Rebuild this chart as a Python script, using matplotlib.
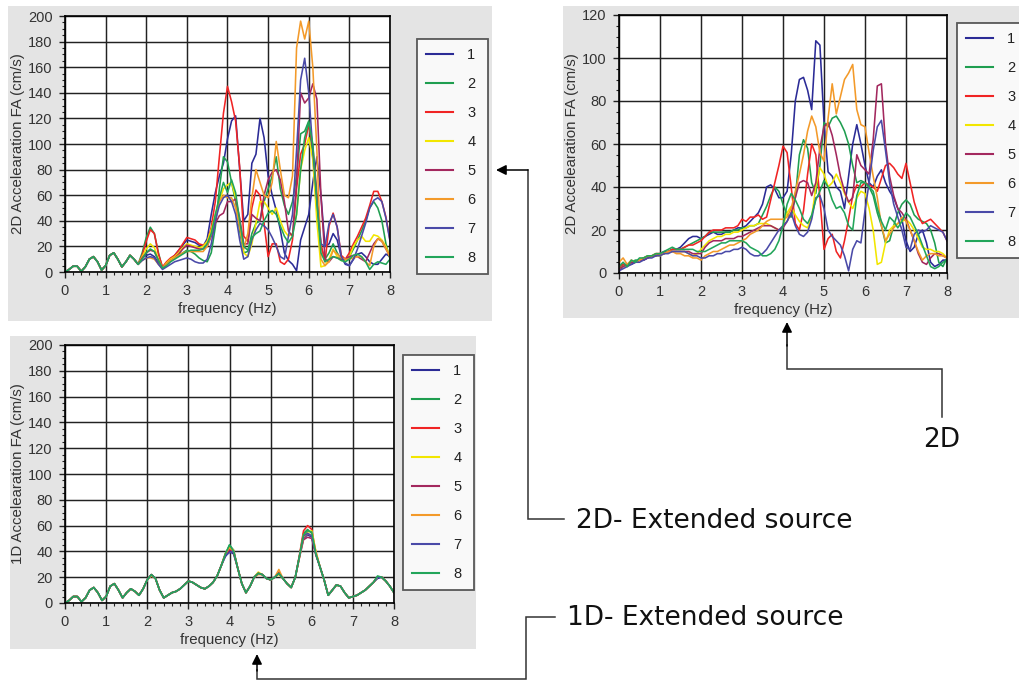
import numpy as np
import matplotlib
matplotlib.use('Agg')
import matplotlib.pyplot as plt
from matplotlib.ticker import MultipleLocator
from matplotlib.patches import Rectangle

W, H = 1020, 681

freq = np.linspace(0, 8, 81)   # 0.1 Hz steps
labels = ['1', '2', '3', '4', '5', '6', '7', '8']
colors = ['#2b2b96', '#1f9e50', '#f02424', '#f2e600',
          '#a3285e', '#f39a2a', '#4a4aa8', '#22a55a']

# ---- 2D, extended source (top left), 0.0-1.8 Hz is shared by all runs
ext2d_low = [0, 2, 4.5, 4.5, 0.5, 4, 10, 12, 8, 1.5, 5, 13, 15, 10, 4, 8, 13, 10, 6]
ext2d_1 = ext2d_low + [11, 13, 14, 12, 7, 3, 7, 10, 13, 17, 21, 25, 24, 23, 21, 20, 26, 45, 62, 75,
                       85, 104, 118, 122, 80, 40, 45, 85, 92, 120, 105, 75, 60, 48, 33, 15, 9, 6, 1, 25,
                       35, 45, 70, 90, 60, 20, 22, 30, 25, 12, 6, 5, 10, 14, 15, 12, 8, 6, 6, 10, 14, 12]
ext2d_2 = ext2d_low + [15, 27, 35, 30, 15, 3, 6, 9, 11, 13, 15, 17, 16, 14, 11, 9, 8, 15, 35, 65,
                       90, 86, 70, 55, 32, 15, 16, 30, 38, 40, 55, 65, 75, 90, 65, 52, 45, 55, 75, 108,
                       110, 118, 90, 55, 20, 10, 15, 22, 15, 10, 9, 12, 18, 25, 32, 40, 50, 55, 50, 40, 22, 10]
ext2d_3 = ext2d_low + [13, 24, 33, 30, 14, 4, 8, 11, 13, 17, 22, 27, 26, 25, 22, 21, 23, 35, 55, 90,
                       124, 145, 133, 118, 82, 28, 24, 50, 64, 60, 38, 12, 22, 22, 8, 6, 10, 25, 65, 92,
                       100, 115, 98, 62, 22, 8, 36, 46, 35, 13, 10, 15, 22, 28, 35, 42, 52, 63, 63, 55, 43, 25]
ext2d_4 = ext2d_low + [12, 18, 22, 19, 10, 3, 7, 10, 12, 15, 19, 22, 21, 20, 19, 20, 24, 33, 45, 55,
                       65, 68, 70, 58, 38, 15, 12, 22, 38, 55, 55, 50, 45, 50, 40, 32, 28, 30, 45, 80,
                       95, 105, 88, 40, 4, 5, 10, 18, 12, 9, 9, 12, 20, 25, 28, 24, 24, 29, 28, 25, 20, 12]
ext2d_5 = ext2d_low + [11, 15, 17, 16, 9, 3, 6, 9, 11, 14, 18, 21, 20, 19, 18, 18, 20, 28, 38, 44,
                       46, 55, 55, 57, 42, 22, 22, 45, 42, 40, 60, 72, 78, 80, 72, 55, 32, 28, 70, 140,
                       132, 136, 147, 135, 60, 10, 8, 12, 11, 10, 10, 12, 13, 12, 10, 8, 15, 22, 26, 24, 18, 12]
ext2d_6 = ext2d_low + [9, 11, 11, 10, 6, 3, 6, 9, 11, 13, 15, 16, 16, 16, 16, 16, 20, 30, 42, 55,
                       60, 58, 58, 50, 35, 18, 30, 58, 80, 70, 60, 58, 70, 102, 80, 60, 58, 75, 175, 196,
                       182, 196, 160, 95, 10, 5, 8, 17, 14, 11, 10, 10, 11, 12, 12, 8, 5, 20, 26, 24, 18, 12]
ext2d_7 = ext2d_low + [9, 11, 12, 11, 6, 2, 4, 6, 8, 9, 10, 11, 10, 8, 7, 7, 10, 22, 40, 52,
                       58, 60, 55, 45, 25, 10, 12, 25, 33, 38, 36, 33, 27, 20, 12, 10, 28, 45, 95, 150,
                       167, 140, 95, 55, 22, 20, 38, 45, 35, 12, 7, 5, 10, 18, 28, 38, 50, 56, 58, 55, 42, 24]
ext2d_8 = ext2d_low + [10, 15, 18, 16, 9, 3, 5, 8, 10, 12, 14, 16, 17, 17, 17, 18, 22, 30, 45, 58,
                       70, 62, 72, 62, 40, 20, 17, 27, 30, 32, 40, 46, 48, 45, 36, 28, 23, 28, 45, 80,
                       105, 117, 100, 55, 15, 8, 10, 12, 11, 9, 8, 10, 13, 14, 12, 8, 2, 6, 8, 7, 6, 10]

# ---- 2D (top right)
pt2d_1 = [1, 3, 4, 4, 5, 6, 6, 7, 8, 8, 9, 10, 10, 11, 11, 12,
          14, 16, 17, 17, 16, 17, 18, 19, 18, 18, 19, 19, 20, 21, 21, 22, 24, 26, 28, 32,
          40, 41, 39, 35, 35, 38, 55, 80, 90, 91, 85, 76, 108, 106, 70, 47, 45, 40, 38, 30,
          45, 60, 69, 60, 50, 42, 40, 45, 48, 42, 38, 35, 30, 25, 15, 10, 12, 18, 20, 14,
          5, 3, 4, 6, 6]
pt2d_2 = [2, 4, 3, 5, 6, 6, 7, 8, 8, 8, 9, 9, 10, 11, 11, 11,
          12, 13, 14, 15, 16, 17, 19, 19, 19, 19, 19, 19, 20, 20, 21, 21, 22, 22, 23, 27,
          31, 36, 40, 38, 32, 27, 26, 35, 55, 62, 58, 42, 37, 50, 70, 68, 72, 73, 70, 66,
          60, 50, 42, 43, 42, 40, 36, 28, 22, 14, 15, 22, 28, 32, 34, 32, 27, 25, 24, 23,
          20, 14, 5, 3, 7]
pt2d_3 = [3, 4, 4, 5, 5, 6, 7, 7, 8, 9, 9, 9, 10, 11, 11, 11,
          12, 13, 13, 14, 15, 17, 19, 20, 20, 20, 21, 21, 21, 22, 25, 24, 26, 26, 27, 25,
          26, 34, 42, 50, 59, 56, 40, 23, 20, 29, 46, 60, 55, 35, 11, 16, 18, 10, 7, 15,
          25, 36, 41, 40, 42, 41, 40, 38, 44, 50, 51, 49, 46, 44, 51, 42, 33, 27, 23, 24,
          25, 23, 21, 19, 15]
pt2d_4 = [2, 3, 4, 5, 5, 6, 7, 7, 8, 8, 8, 9, 10, 10, 10, 10,
          10, 9, 8, 9, 11, 13, 15, 16, 17, 17, 18, 18, 19, 19, 20, 21, 22, 22, 23, 23,
          23, 22, 21, 20, 22, 28, 31, 27, 24, 22, 21, 26, 40, 49, 46, 40, 42, 46, 42, 37,
          33, 30, 35, 38, 37, 30, 20, 4, 5, 14, 20, 22, 23, 24, 25, 23, 20, 16, 12, 11,
          11, 10, 10, 9, 7]
pt2d_5 = [2, 3, 4, 5, 5, 6, 6, 7, 8, 8, 9, 9, 10, 10, 10, 10,
          10, 10, 9, 9, 9, 12, 14, 15, 15, 15, 16, 16, 16, 17, 17, 18, 19, 20, 21, 22,
          22, 22, 21, 20, 21, 24, 28, 35, 42, 43, 42, 36, 42, 58, 68, 70, 64, 55, 45, 38,
          33, 35, 55, 50, 48, 46, 62, 87, 88, 60, 45, 36, 30, 28, 25, 20, 15, 9, 5, 4,
          7, 9, 9, 8, 7]
pt2d_6 = [5, 7, 4, 6, 5, 6, 7, 8, 8, 9, 9, 9, 10, 10, 9, 9, 8, 8, 7, 7,
          6, 8, 9, 10, 10, 11, 12, 13, 13, 14, 15, 16, 18, 19, 20, 22, 24, 25, 25, 25,
          25, 26, 30, 38, 46, 55, 66, 73, 68, 56, 52, 72, 88, 74, 82, 90, 93, 97, 76, 69,
          68, 56, 45, 35, 22, 15, 18, 21, 23, 26, 24, 20, 15, 10, 6, 8, 9, 9, 8, 8, 7]
pt2d_7 = [1, 2, 3, 4, 5, 5, 6, 7, 7, 8, 8, 9, 9, 10, 10, 10,
          10, 9, 8, 8, 7, 7, 8, 8, 9, 9, 10, 10, 11, 11, 12, 11, 9, 8, 8, 9,
          11, 14, 17, 20, 22, 24, 28, 22, 18, 17, 19, 25, 35, 36, 30, 20, 17, 15, 13, 8,
          1, 11, 15, 14, 29, 42, 57, 68, 71, 57, 42, 32, 26, 20, 12, 11, 18, 20, 19, 20,
          22, 21, 20, 19, 15]
pt2d_8 = [3, 5, 3, 6, 5, 7, 7, 8, 8, 9, 9, 10, 11, 12, 11, 11,
          11, 11, 11, 10, 10, 10, 11, 12, 13, 14, 14, 15, 15, 15, 15, 14, 12, 11, 10, 8,
          8, 9, 11, 15, 22, 32, 37, 34, 30, 25, 23, 27, 34, 38, 43, 40, 34, 30, 31, 28,
          22, 20, 36, 42, 42, 40, 38, 30, 24, 20, 26, 24, 21, 24, 28, 26, 22, 18, 13, 8,
          3, 2, 3, 5, 6]

# ---- 1D, extended source (bottom left)
ext1d_1 = [0, 2, 5, 5, 1, 4, 10, 12, 8, 2, 5, 13, 15, 10, 4, 8, 11, 9, 6, 11,
           18, 22, 19, 10, 4, 6, 8, 9, 11, 14, 17, 16, 14, 12, 11, 13, 16, 21, 29, 36,
           40, 38, 27, 15, 8, 13, 20, 23, 22, 19, 18, 20, 23, 19, 15, 12, 20, 36, 50, 53,
           51, 38, 28, 18, 6, 10, 14, 13, 8, 4, 5, 6, 8, 10, 13, 16, 19, 20, 17, 13, 8]
ext1d_2 = [0, 2, 5, 5, 1, 4, 10, 12, 8, 2, 5, 13, 15, 10, 4, 8, 11, 9, 6, 11,
           18, 22, 19, 10, 4, 6, 8, 9, 11, 14, 17, 16, 14, 12, 11, 13, 16, 21, 29, 38,
           45, 41, 27, 15, 8, 13, 20, 23, 22, 19, 18, 20, 23, 19, 15, 12, 20, 36, 54, 57,
           54, 38, 28, 18, 6, 10, 14, 13, 8, 4, 5, 6, 8, 10, 13, 16, 20, 20, 17, 13, 8]
ext1d_3 = [0, 2, 5, 5, 1, 4, 10, 12, 8, 2, 5, 13, 15, 10, 4, 8, 11, 9, 6, 11,
           18, 22, 19, 10, 4, 6, 8, 9, 11, 14, 17, 16, 14, 12, 11, 13, 16, 21, 29, 38,
           42, 40, 27, 15, 8, 13, 20, 23, 22, 19, 18, 20, 24, 19, 15, 12, 20, 37, 56, 60,
           57, 39, 28, 18, 6, 10, 14, 13, 8, 4, 5, 6, 8, 10, 13, 16, 20, 20, 17, 13, 8]
ext1d_4 = [0, 2, 5, 5, 1, 4, 10, 12, 8, 2, 5, 13, 15, 10, 4, 8, 11, 9, 6, 11,
           18, 22, 19, 10, 4, 6, 8, 9, 11, 14, 17, 16, 14, 12, 11, 13, 16, 21, 29, 38,
           43, 40, 27, 15, 8, 13, 20, 24, 22, 19, 18, 20, 22, 19, 15, 12, 20, 36, 53, 55,
           56, 40, 28, 18, 6, 10, 14, 13, 8, 4, 5, 6, 8, 10, 13, 16, 20, 20, 17, 13, 8]
ext1d_5 = [0, 2, 5, 5, 1, 4, 10, 12, 8, 2, 5, 13, 15, 10, 4, 8, 11, 9, 6, 11,
           18, 22, 19, 10, 4, 6, 8, 9, 11, 14, 17, 16, 14, 12, 11, 13, 16, 21, 29, 38,
           41, 39, 27, 15, 8, 13, 20, 23, 22, 19, 18, 20, 23, 19, 15, 12, 20, 35, 49, 51,
           50, 37, 28, 18, 6, 10, 14, 13, 8, 4, 5, 6, 8, 10, 13, 16, 20, 20, 17, 13, 8]
ext1d_6 = [0, 2, 5, 5, 1, 4, 10, 12, 8, 2, 5, 13, 15, 10, 4, 8, 11, 9, 6, 11,
           18, 21, 19, 10, 4, 6, 8, 9, 11, 14, 17, 16, 14, 12, 11, 13, 16, 21, 29, 38,
           43, 41, 27, 15, 8, 13, 20, 22, 22, 19, 18, 20, 26, 19, 15, 12, 20, 35, 51, 54,
           52, 40, 28, 18, 6, 10, 14, 13, 8, 4, 5, 6, 8, 10, 13, 16, 20, 20, 17, 13, 8]
ext1d_7 = [0, 2, 5, 5, 1, 4, 10, 12, 8, 2, 5, 13, 15, 10, 4, 8, 11, 9, 6, 11,
           18, 22, 19, 10, 4, 6, 8, 9, 11, 14, 17, 16, 14, 12, 11, 13, 16, 21, 29, 37,
           39, 40, 27, 15, 8, 13, 20, 23, 22, 19, 18, 20, 23, 19, 15, 12, 20, 36, 52, 54,
           52, 38, 28, 18, 6, 10, 14, 13, 8, 4, 5, 6, 8, 10, 13, 16, 20, 20, 17, 13, 8]
ext1d_8 = [0, 2, 5, 5, 1, 4, 10, 12, 8, 2, 5, 13, 15, 10, 4, 8, 11, 9, 6, 11,
           18, 22, 19, 10, 4, 6, 8, 9, 11, 14, 17, 16, 14, 12, 11, 13, 16, 21, 29, 38,
           45, 40, 27, 15, 8, 13, 20, 23, 22, 19, 18, 20, 23, 19, 15, 12, 20, 36, 53, 56,
           55, 38, 28, 18, 6, 10, 14, 13, 8, 4, 5, 6, 8, 10, 13, 16, 21, 20, 17, 13, 8]

ext2d = [ext2d_1, ext2d_2, ext2d_3, ext2d_4, ext2d_5, ext2d_6, ext2d_7, ext2d_8]
pt2d = [pt2d_1, pt2d_2, pt2d_3, pt2d_4, pt2d_5, pt2d_6, pt2d_7, pt2d_8]
ext1d = [ext1d_1, ext1d_2, ext1d_3, ext1d_4, ext1d_5, ext1d_6, ext1d_7, ext1d_8]


def fbox(l, t, r, b):
    # pixel box (top-left origin) -> figure fraction rect
    return [l / W, 1 - b / H, (r - l) / W, (b - t) / H]


def draw_panel(ax, series, ymax, ystep, yminor, ylabel, leg_box):
    for s, c, lab in zip(series, colors, labels):
        ax.plot(freq, s, color=c, lw=1.15, label=lab)
    ax.set_xlim(0, 8)
    ax.set_ylim(0, ymax)
    ax.xaxis.set_major_locator(MultipleLocator(1))
    ax.xaxis.set_minor_locator(MultipleLocator(0.2))
    ax.yaxis.set_major_locator(MultipleLocator(ystep))
    ax.yaxis.set_minor_locator(MultipleLocator(yminor))
    ax.grid(True, which='major', color='#222222', lw=1.05)
    ax.set_axisbelow(True)
    ax.tick_params(which='major', direction='out', length=4.5, width=1, color='#222',
                   labelsize=10.5, labelcolor='#333', pad=4.3)
    ax.tick_params(which='minor', direction='out', length=2.5, width=0.8, color='#222')
    for sp in ax.spines.values():
        sp.set_linewidth(1.2)
        sp.set_color('black')
    ax.set_xlabel('frequency (Hz)', fontsize=10.8, color='#333', labelpad=3)
    ax.set_ylabel(ylabel, fontsize=10.8, color='#333', labelpad=2)
    l, t, r, b = leg_box
    leg = ax.legend(loc='upper left', bbox_to_anchor=fbox(l, t, r, b),
                    bbox_transform=fig.transFigure, mode='expand', borderaxespad=0,
                    fancybox=False, edgecolor='#333', fontsize=10.5, handlelength=1.85,
                    handletextpad=1.0, labelspacing=1.03, borderpad=0.6)
    leg.get_frame().set_linewidth(1.3)
    for ln in leg.get_lines():
        ln.set_linewidth(1.5)
    for tx in leg.get_texts():
        tx.set_color('#222')


plt.rcParams['font.family'] = ['Liberation Sans', 'DejaVu Sans']

fig = plt.figure(figsize=(W / 100, H / 100), dpi=100)
fig.patch.set_facecolor('white')

# grey card behind each chart
for l, t, r, b in [(8, 6, 492, 321), (563, 6, 1021, 318), (10, 336, 476, 649)]:
    x, y, w, h = fbox(l, t, r, b)
    fig.patches.append(Rectangle((x, y), w, h, transform=fig.transFigure,
                                 facecolor='#e4e4e4', edgecolor='none', zorder=-5))

ax1 = fig.add_axes(fbox(65, 16, 390, 272))
draw_panel(ax1, ext2d, 200, 20, 5, '2D Accelearation FA (cm/s)', (417, 39, 488, 271))

ax2 = fig.add_axes(fbox(619, 15, 947, 273))
draw_panel(ax2, pt2d, 120, 20, 5, '2D Accelearation FA (cm/s)', (957, 23, 1024, 257))

ax3 = fig.add_axes(fbox(65, 345, 394, 603))
draw_panel(ax3, ext1d, 200, 20, 5, '1D Accelearation FA (cm/s)', (403, 355, 474, 590))

# overlay in pixel coordinates for the call-out arrows and captions
ov = fig.add_axes([0, 0, 1, 1], zorder=10)
ov.set_xlim(0, W)
ov.set_ylim(H, 0)
ov.axis('off')

line_kw = dict(color='#333', lw=1.1, solid_joinstyle='miter')
arrow_kw = dict(arrowstyle='-|>', color='black', lw=1.1, mutation_scale=15,
                shrinkA=0, shrinkB=0)
txt_kw = dict(fontsize=19, family='DejaVu Sans', color='#111', va='center')

# 2D- Extended source -> top-left chart
ov.plot([564, 528, 528], [519, 519, 170], **line_kw)
ov.annotate('', xy=(496, 170), xytext=(528, 170), arrowprops=arrow_kw)
ov.text(576, 521, '2D- Extended source', ha='left', **txt_kw)

# 2D -> top-right chart
ov.plot([942, 942, 787, 787], [417, 369, 369, 345], **line_kw)
ov.annotate('', xy=(787, 322), xytext=(787, 346), arrowprops=arrow_kw)
ov.text(942, 440, '2D', ha='center', **txt_kw)

# 1D- Extended source -> bottom chart
ov.plot([555, 526, 526, 257, 257], [617, 617, 679, 679, 670], **line_kw)
ov.annotate('', xy=(257, 654), xytext=(257, 671), arrowprops=arrow_kw)
ov.text(567, 618, '1D- Extended source', ha='left', **txt_kw)

fig.savefig('out.png', dpi=100)
